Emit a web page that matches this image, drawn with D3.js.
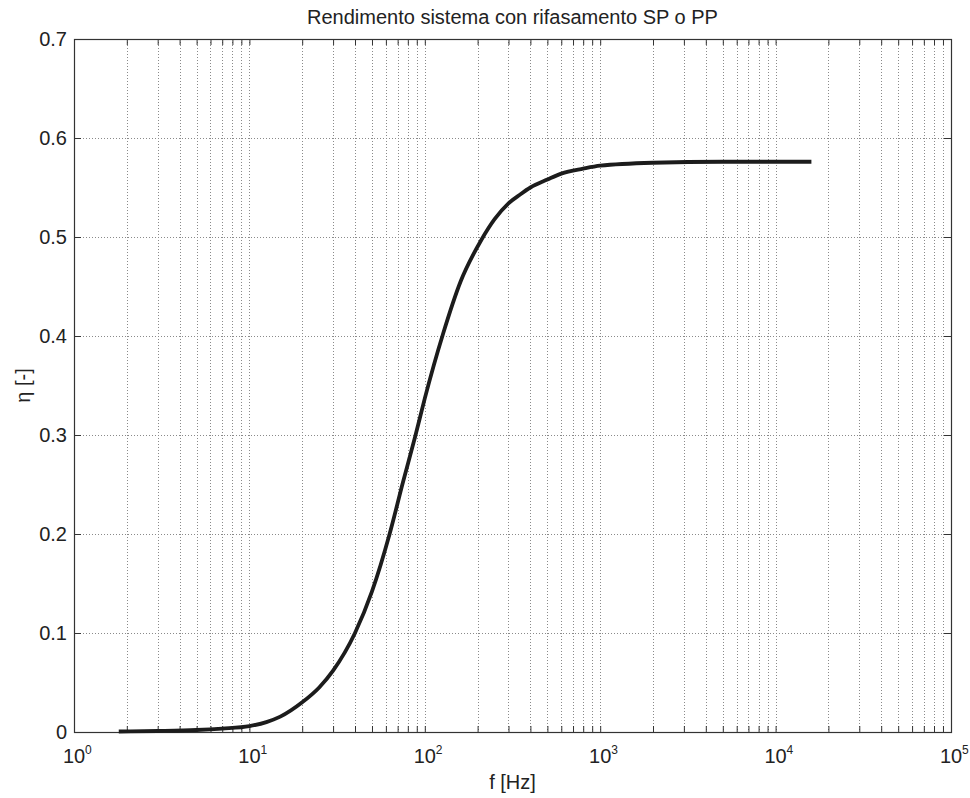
<!DOCTYPE html>
<html>
<head>
<meta charset="utf-8">
<script src="https://cdn.jsdelivr.net/npm/d3@7"></script>
<style>
  html, body { margin: 0; padding: 0; background: #fff; }
  svg { display: block; font-family: "Liberation Sans", Arial, Helvetica, sans-serif; }
</style>
</head>
<body>
<svg id="chart" width="970" height="798"></svg>
<script>
// ---- data ----
const freqHz = [1.8, 3, 5, 7, 10, 12.5, 15, 20, 25, 30, 40, 50, 63, 75, 88, 100, 127, 160, 210, 250, 300, 350, 400, 500, 600, 800, 1000, 2000, 5000, 16000];
const efficiency = [0.0005, 0.001, 0.002, 0.0035, 0.006, 0.010, 0.0155, 0.030, 0.045, 0.062, 0.100, 0.142, 0.200, 0.252, 0.298, 0.337, 0.402, 0.455, 0.497, 0.518, 0.534, 0.543, 0.550, 0.558, 0.564, 0.569, 0.572, 0.575, 0.576, 0.576];
const xDecades = [1, 10, 100, 1000, 10000, 100000];
const xExponents = ["0", "1", "2", "3", "4", "5"];
const yTicks = [0, 0.1, 0.2, 0.3, 0.4, 0.5, 0.6, 0.7];
const yTickLabels = ["0", "0.1", "0.2", "0.3", "0.4", "0.5", "0.6", "0.7"];
const titleText = "Rendimento sistema con rifasamento SP o PP";
const xLabelText = "f [Hz]";
const yLabelText = "η [-]";

// ---- layout ----
const L = 74, R = 951, T = 39, B = 732;
const svg = d3.select("#chart");
const x = d3.scaleLog().domain([1, 1e5]).range([L, R]);
const y = d3.scaleLinear().domain([0, 0.7]).range([B, T]);

// minor ticks for log axis
const minorTicks = [];
for (let d = 0; d < xDecades.length - 1; d++) {
  for (let k = 2; k <= 9; k++) minorTicks.push(xDecades[d] * k);
}
const allXTicks = xDecades.concat(minorTicks);

const gridColor = "#8a8a8a";
const gGrid = svg.append("g");
gGrid.selectAll("line.vx").data(allXTicks.filter(v => v > 1 && v < 1e5)).join("line")
  .attr("x1", d => Math.round(x(d)) + 0.5).attr("x2", d => Math.round(x(d)) + 0.5)
  .attr("y1", T).attr("y2", B)
  .attr("stroke", gridColor).attr("stroke-width", 1).attr("stroke-dasharray", "1,2");
gGrid.selectAll("line.hy").data(yTicks.filter(v => v > 0 && v < 0.7)).join("line")
  .attr("y1", d => Math.round(y(d)) + 0.5).attr("y2", d => Math.round(y(d)) + 0.5)
  .attr("x1", L).attr("x2", R)
  .attr("stroke", gridColor).attr("stroke-width", 1).attr("stroke-dasharray", "1,2");

const axColor = "#333";
function styleAxis(g) {
  g.select(".domain").remove();
  g.selectAll(".tick line").attr("stroke", axColor);
  g.selectAll(".tick text").remove();
}
svg.append("g").attr("transform", `translate(0,${B})`)
  .call(d3.axisTop(x).tickValues(allXTicks).tickSize(6)).call(styleAxis);
svg.append("g").attr("transform", `translate(0,${T})`)
  .call(d3.axisBottom(x).tickValues(allXTicks).tickSize(6)).call(styleAxis);
svg.append("g").attr("transform", `translate(${L},0)`)
  .call(d3.axisRight(y).tickValues(yTicks).tickSize(7)).call(styleAxis);
svg.append("g").attr("transform", `translate(${R},0)`)
  .call(d3.axisLeft(y).tickValues(yTicks).tickSize(7)).call(styleAxis);

svg.append("rect").attr("x", L + 0.5).attr("y", T + 0.5)
  .attr("width", R - L).attr("height", B - T)
  .attr("fill", "none").attr("stroke", axColor).attr("stroke-width", 1.2);

// curve
const pts = freqHz.map((f, i) => [f, efficiency[i]]);
const line = d3.line().x(d => x(d[0])).y(d => y(d[1])).curve(d3.curveMonotoneX);
svg.append("path").datum(pts).attr("d", line)
  .attr("fill", "none").attr("stroke", "#1c1c1c").attr("stroke-width", 3.8)
  .attr("stroke-linejoin", "round");

// y tick labels
svg.append("g").selectAll("text").data(yTicks).join("text")
  .attr("x", L - 7).attr("y", d => y(d)).attr("dy", "0.36em")
  .attr("text-anchor", "end").attr("font-size", 20).attr("fill", "#222")
  .text((d, i) => yTickLabels[i]);

// x tick labels
const xl = svg.append("g").selectAll("g").data(xDecades).join("g")
  .attr("transform", d => `translate(${x(d)},763)`);
xl.append("text").attr("text-anchor", "middle").attr("font-size", 20).attr("fill", "#222").text("10");
xl.append("text").attr("x", 11).attr("y", -9).attr("font-size", 12).attr("fill", "#222")
  .text((d, i) => xExponents[i]);

// title and axis labels
svg.append("text").attr("x", (L + R) / 2).attr("y", 24).attr("text-anchor", "middle")
  .attr("font-size", 20).attr("fill", "#222").text(titleText);
svg.append("text").attr("x", (L + R) / 2).attr("y", 789).attr("text-anchor", "middle")
  .attr("font-size", 20).attr("fill", "#222").text(xLabelText);
svg.append("text").attr("transform", `translate(30,${(T + B) / 2}) rotate(-90)`)
  .attr("text-anchor", "middle").attr("font-size", 20).attr("fill", "#222").text(yLabelText);
</script>
</body>
</html>
